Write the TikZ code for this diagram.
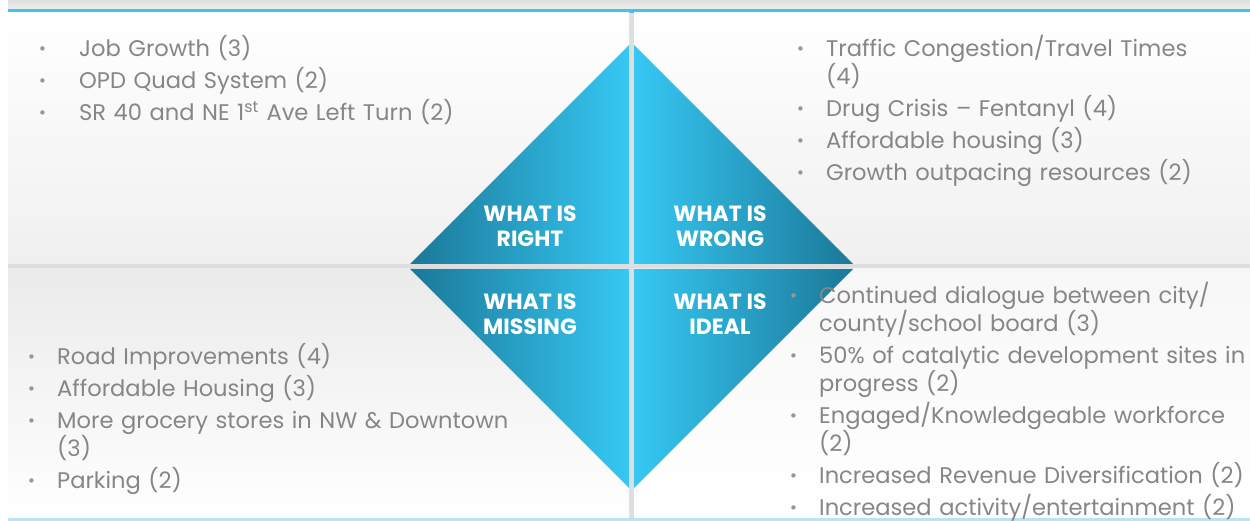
\documentclass[tikz,border=0pt]{standalone}
\usepackage{fontspec}
\setmainfont{Poppins}
\newfontfamily\dotfont{DejaVu Sans}
\usepackage{tikz}
\usetikzlibrary{shapes,arrows,positioning,fit,backgrounds}
\definecolor{ltblue}{RGB}{54, 200, 243}
\definecolor{dkblue}{RGB}{27, 120, 152}
\definecolor{lineblue}{RGB}{66, 196, 234}
\definecolor{paleblue}{RGB}{185, 228, 245}
\definecolor{gapgray}{RGB}{222, 222, 222}
\definecolor{txtgray}{RGB}{134, 134, 134}
\definecolor{dotgray}{RGB}{150, 150, 150}
\newcommand{\listfont}{\fontsize{22.6}{28}\selectfont\setlength{\lineskiplimit}{-30pt}\setlength{\parskip}{4pt}\relax}
\tikzstyle{panel} = [top color=white, bottom color=black!6]
\tikzstyle{quadtext} = [draw=none, fill=none, text=white, align=center, font=\bfseries\fontsize{22}{25}\selectfont]
\tikzstyle{listtext} = [draw=none, fill=none, inner sep=0pt, anchor=north west, text width=520pt, align=left, text=txtgray, font=\listfont]
\newcommand{\bul}{{\color{dotgray}\dotfont\fontsize{15}{15}\selectfont\raisebox{1.5pt}{•}}}
\newcommand{\bitem}[2][30pt]{\par\hangindent=#1\hangafter=1\noindent\makebox[#1][l]{\bul}#2\par}

\begin{document}
\begin{tikzpicture}[x=1pt, y=-1pt]

\useasboundingbox (0,0) rectangle (1250,521);

% background =============================
\fill[white] (0,0) rectangle (1250,521);
\fill[gapgray] (8,0) rectangle (1250,521);
\shade[top color=black!13, bottom color=black!7] (8,0) rectangle (1250,9);
\fill[lineblue] (8,9) rectangle (1250,13);
\fill[paleblue] (8,517) rectangle (1250,521);

% panels
\shade[panel] (8,13) rectangle (629,264);
\shade[panel] (634,13) rectangle (1250,264);
\shade[top color=black!8, bottom color=white] (8,269) rectangle (629,517);
\shade[top color=black!3, bottom color=white] (634,269) rectangle (1250,517);

% diamond ================================
\shade[left color=dkblue, right color=ltblue] (410,264) -- (629,45) -- (629,264) -- cycle;
\shade[left color=ltblue, right color=dkblue] (634,45) -- (853,264) -- (634,264) -- cycle;
\shade[left color=dkblue, right color=ltblue] (410,269) -- (629,269) -- (629,488) -- cycle;
\shade[left color=ltblue, right color=dkblue] (634,269) -- (853,269) -- (634,488) -- cycle;

% quadrant titles
\node[quadtext] (right) at (530,226) {WHAT IS\\RIGHT};
\node[quadtext] (wrong) at (720,226) {WHAT IS\\WRONG};
\node[quadtext] (missing) at (530,314) {WHAT IS\\MISSING};
\node[quadtext] (ideal) at (720,314) {WHAT IS\\IDEAL};

% lists ==================================

% what is right
\node[listtext] (rightlist) at (38,24) {%
\bitem[41pt]{Job Growth (3)}
\bitem[41pt]{OPD Quad System (2)}
\bitem[41pt]{SR 40 and NE 1\textsuperscript{st} Ave Left Turn (2)}};

% what is wrong
\node[listtext] (wronglist) at (796,24) {%
\bitem{Traffic Congestion/Travel Times\newline(4)}
\bitem{Drug Crisis -- Fentanyl (4)}
\bitem{Affordable housing (3)}
\bitem{Growth outpacing resources (2)}};

% what is missing
\node[listtext] (missinglist) at (27,332) {%
\bitem{Road Improvements (4)}
\bitem{Affordable Housing (3)}
\bitem{More grocery stores in NW \& Downtown\newline(3)}
\bitem{Parking (2)}};

% what is ideal
\node[listtext] (ideallist) at (789,271) {%
\bitem{Continued dialogue between city/\newline county/school board (3)}
\bitem{50\% of catalytic development sites in\newline progress (2)}
\bitem{Engaged/Knowledgeable workforce\newline(2)}
\bitem{Increased Revenue Diversification (2)}
\bitem{Increased activity/entertainment (2)}};

\end{tikzpicture}
\end{document}
